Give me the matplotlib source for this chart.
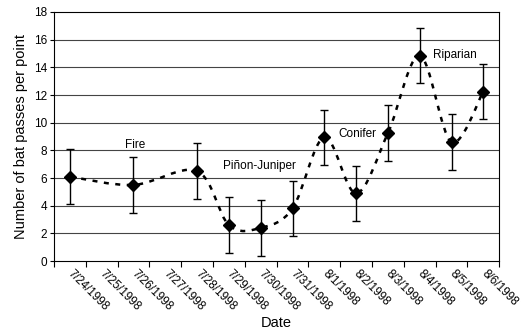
import matplotlib
matplotlib.use("Agg")
import matplotlib.pyplot as plt
import numpy as np
from matplotlib.path import Path
from matplotlib.patches import PathPatch

plt.rcParams['font.family'] = ['Liberation Sans', 'DejaVu Sans']

# category axis labels (one per day)
dates = ['7/24/1998', '7/25/1998', '7/26/1998', '7/27/1998', '7/28/1998',
         '7/29/1998', '7/30/1998', '7/31/1998', '8/1/1998', '8/2/1998',
         '8/3/1998', '8/4/1998', '8/5/1998', '8/6/1998']

# sampled nights (category index), mean passes and error
sample_idx = [0, 2, 4, 5, 6, 7, 8, 9, 10, 11, 12, 13]
passes = [6.1, 5.5, 6.5, 2.6, 2.4, 3.8, 8.95, 4.9, 9.25, 14.85, 8.6, 12.25]
err = [2.0, 2.0, 2.0, 2.0, 2.0, 2.0, 2.0, 2.0, 2.0, 2.0, 2.0, 2.0]

# habitat labels: (text, category x, y)
habitats = [('Fire', 2.05, 8.4), ('Piñon-Juniper', 5.95, 6.9),
            ('Conifer', 9.05, 9.15), ('Riparian', 12.1, 14.9)]


def smooth_path(xs, ys):
    """Excel-like smoothed line as cubic bezier segments."""
    pts = np.column_stack([xs, ys]).astype(float)
    n = len(pts)
    verts = [pts[0]]
    codes = [Path.MOVETO]
    for i in range(n - 1):
        p0 = pts[i - 1] if i > 0 else pts[i]
        p1 = pts[i]
        p2 = pts[i + 1]
        p3 = pts[i + 2] if i + 2 < n else pts[i + 1]
        c1 = p1 + (p2 - p0) / 6.0
        c2 = p2 - (p3 - p1) / 6.0
        verts += [c1, c2, p2]
        codes += [Path.CURVE4] * 3
    return Path(verts, codes)


fig = plt.figure(figsize=(5.22, 3.33), dpi=100)
ax = fig.add_axes([0.1034, 0.216, 0.853, 0.748])

for y in range(2, 18, 2):
    ax.axhline(y, color='#444444', lw=0.8, zorder=0)

ax.add_patch(PathPatch(smooth_path(sample_idx, passes), fill=False,
                       ec='black', lw=1.8, linestyle=(0, (2, 2.6)), zorder=2))

ax.errorbar(sample_idx, passes, yerr=err, fmt='none', ecolor='black',
            elinewidth=1.0, capsize=3, capthick=1.0, zorder=3)
ax.plot(sample_idx, passes, linestyle='none', marker='D', ms=6.5,
        color='black', zorder=4)

for txt, x, y in habitats:
    ax.text(x, y, txt, fontsize=8.5, ha='center', va='center')

ax.set_xlim(-0.5, 13.5)
ax.set_ylim(0, 18)
ax.set_yticks(range(0, 19, 2))
ax.tick_params(axis='y', labelsize=8.5, length=3, width=0.8, pad=2)

ax.set_xticks(range(len(dates)))
ax.set_xticklabels(dates, rotation=-45, ha='left', va='center',
                   rotation_mode='anchor', fontsize=8.5)
ax.tick_params(axis='x', length=0, pad=8)
ax.set_xticks(np.arange(-0.5, 14, 1), minor=True)
ax.tick_params(axis='x', which='minor', length=4, width=0.8)

for s in ax.spines.values():
    s.set_linewidth(0.8)

ax.set_ylabel('Number of bat passes per point', fontsize=10.5, labelpad=4)
ax.set_xlabel('Date', fontsize=10.5, labelpad=2)

fig.savefig('out.png', dpi=100)
